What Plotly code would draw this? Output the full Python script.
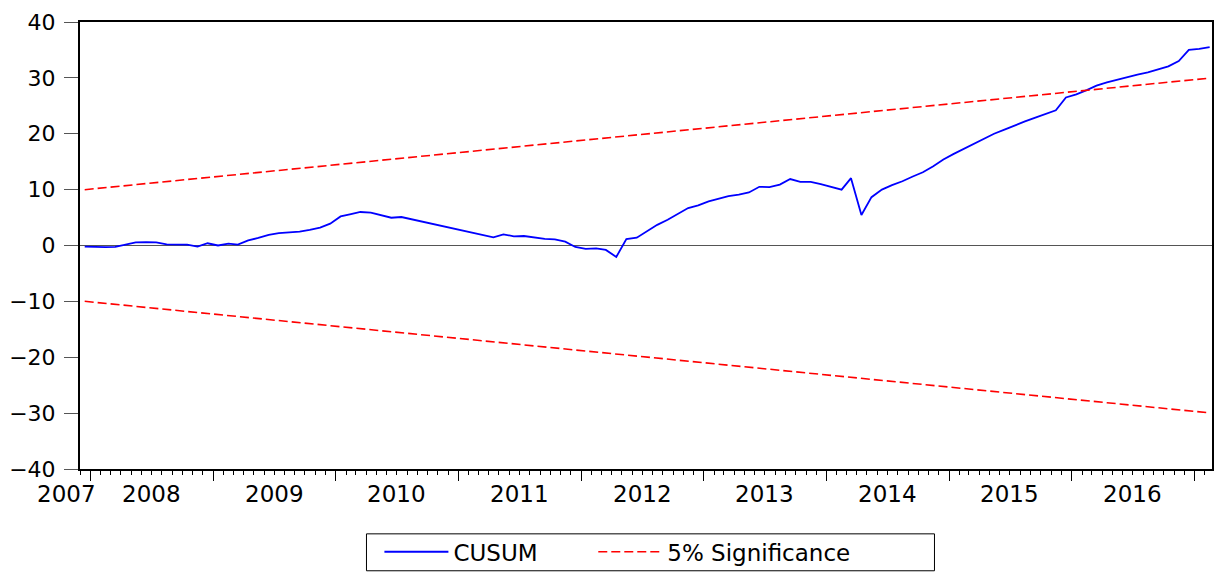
import pandas as pd
import plotly.graph_objects as go

# ---- data (monthly, 2007M12 .. 2017M02) ----
start_month = "2007-12-01"
cusum = [
    -0.2, -0.3, -0.3, -0.25, 0.1, 0.57, 0.6, 0.55, 0.2, 0.2,
    0.15, -0.2, 0.4, 0.0, 0.35, 0.15, 0.9, 1.35, 1.9, 2.2,
    2.35, 2.5, 2.8, 3.2, 3.9, 5.2, 5.6, 6.0, 5.9, 5.45,
    4.97, 5.1, 4.7, 4.3, 3.9, 3.5, 3.1, 2.7, 2.3, 1.9,
    1.45, 2.0, 1.65, 1.7, 1.4, 1.2, 1.1, 0.7, -0.27, -0.6,
    -0.5, -0.8, -2.05, 1.15, 1.4, 2.5, 3.7, 4.6, 5.6, 6.7,
    7.2, 7.9, 8.4, 8.85, 9.1, 9.5, 10.5, 10.45, 10.9, 11.9,
    11.4, 11.4, 11.0, 10.5, 10.0, 12.05, 5.45, 8.65, 10.0, 10.8,
    11.5, 12.35, 13.1, 14.2, 15.4, 16.4, 17.3, 18.1, 19.0, 20.0,
    20.75, 21.5, 22.2, 22.9, 23.5, 24.2, 26.5, 27.05, 27.8, 28.6,
    29.2, 29.7, 30.1, 30.6, 31.0, 31.5, 32.05, 33.0, 35.0, 35.2,
    35.5,
]
bound_upper = [9.99, 29.96]   # at first and last observation
bound_lower = [-9.99, -29.96]
years = ["2008", "2009", "2010", "2011", "2012", "2013", "2014", "2015", "2016"]
year_label_pos = ["2008-07-01", "2009-07-01", "2010-07-01", "2011-07-01",
                  "2012-07-01", "2013-07-01", "2014-07-01", "2015-07-01", "2016-07-01"]
first_year_label = "2007"
y_ticks = [-40, -30, -20, -10, 0, 10, 20, 30, 40]

dates = (pd.date_range(start_month, periods=len(cusum), freq="MS") + pd.Timedelta(days=14))
dates = [d.strftime("%Y-%m-%d") for d in dates]
bound_dates = [dates[0], dates[-1]]

FONT = "DejaVu Sans"
OFF = 8  # default page body margin in the browser
W, H = 1223 - 2 * OFF, 574 - OFF
L, R, T, B = 68, 1, 14, 104
PW, PH = W - L - R, H - T - B
PLOT_LEFT, PLOT_BOTTOM = OFF + L, OFF + H - B  # on-screen pixel positions


def sx(px):  # on-screen x pixel -> paper
    return (px - PLOT_LEFT) / PW


def sy(py):  # on-screen y pixel -> paper
    return (PLOT_BOTTOM - py) / PH


DASH = "9px,4px"
fig = go.Figure()
fig.add_trace(go.Scatter(x=dates, y=cusum, mode="lines", name="CUSUM",
                         line=dict(color="#0000FF", width=1.8), legend="legend"))
fig.add_trace(go.Scatter(x=bound_dates, y=bound_upper, mode="lines", name="5% Significance",
                         line=dict(color="#FF0000", width=1.6, dash=DASH), legend="legend2"))
fig.add_trace(go.Scatter(x=bound_dates, y=bound_lower, mode="lines", name="5% Significance",
                         showlegend=False, legend="legend2",
                         line=dict(color="#FF0000", width=1.6, dash=DASH)))

for yr, pos in zip(years, year_label_pos):
    fig.add_annotation(x=pos, xref="x", y=sy(495), yref="paper", text=yr,
                       showarrow=False, xanchor="center", yanchor="middle",
                       font=dict(family=FONT, size=23, color="black"))
fig.add_annotation(x=sx(62), xref="paper", y=sy(495), yref="paper",
                   text=first_year_label, showarrow=False, xanchor="center", yanchor="middle",
                   font=dict(family=FONT, size=23, color="black"))

# legend frame
fig.add_shape(type="rect", xref="paper", yref="paper",
              x0=sx(364), x1=sx(935), y0=sy(535), y1=sy(572),
              line=dict(color="black", width=1), fillcolor="rgba(0,0,0,0)")

leg_common = dict(orientation="h", yanchor="middle", y=sy(553), xanchor="left",
                  borderwidth=0, bgcolor="rgba(0,0,0,0)",
                  font=dict(family=FONT, size=23, color="black"), itemwidth=64)

fig.update_layout(
    width=W, height=H,
    margin=dict(l=L, r=R, t=T, b=B),
    paper_bgcolor="white", plot_bgcolor="white",
    font=dict(family=FONT, size=21, color="black"),
    showlegend=True,
    legend=dict(x=sx(377), **leg_common),
    legend2=dict(x=sx(592), **leg_common),
    xaxis=dict(type="date", range=["2007-12-01", "2017-02-22"],
               showgrid=False, zeroline=False,
               showline=True, linecolor="black", linewidth=2, mirror=True,
               ticks="outside", ticklen=10, tickwidth=1, tickcolor="black",
               tick0="2008-01-01", dtick="M12", showticklabels=False,
               minor=dict(dtick="M1", tick0="2008-01-01", ticks="outside",
                          ticklen=4, tickwidth=1, tickcolor="black", showgrid=False)),
    yaxis=dict(range=[-40, 40], tickvals=y_ticks, showgrid=False,
               zeroline=True, zerolinecolor="#555555", zerolinewidth=1,
               showline=True, linecolor="black", linewidth=2, mirror=True,
               ticks="outside", ticklen=14, tickwidth=1, tickcolor="#555555",
               ticklabelstandoff=4,
               tickfont=dict(family=FONT, size=22, color="black")),
)

fig.write_html("out.html")
